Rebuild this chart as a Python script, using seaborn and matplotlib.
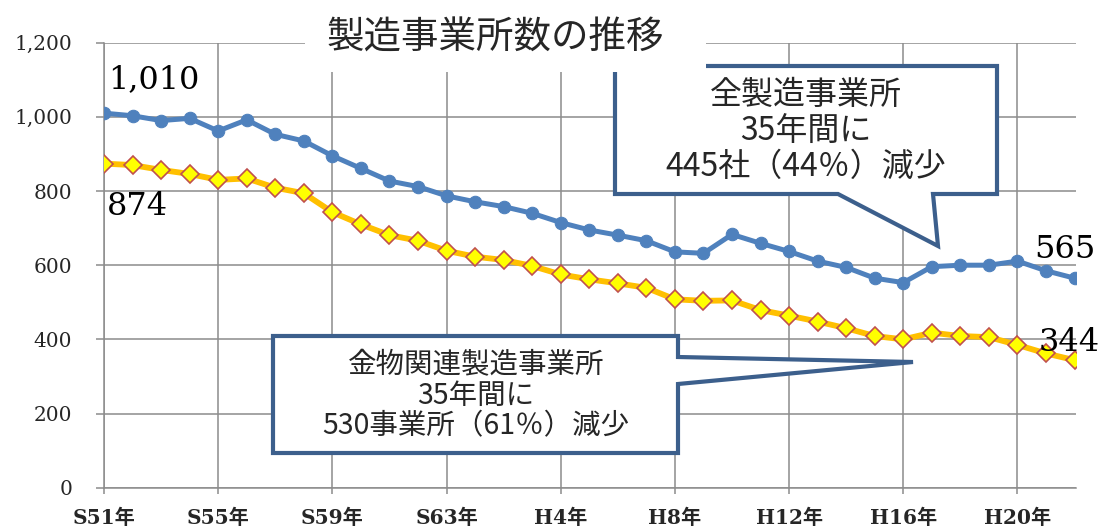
import matplotlib
matplotlib.use("Agg")
import matplotlib.pyplot as plt
from matplotlib.patches import Polygon, Rectangle
import seaborn as sns
import pandas as pd

# ---- data -------------------------------------------------------------
years = ["S51年", "S52年", "S53年", "S54年", "S55年", "S56年", "S57年", "S58年",
         "S59年", "S60年", "S61年", "S62年", "S63年", "H1年", "H2年", "H3年",
         "H4年", "H5年", "H6年", "H7年", "H8年", "H9年", "H10年", "H11年",
         "H12年", "H13年", "H14年", "H15年", "H16年", "H17年", "H18年", "H19年",
         "H20年", "H21年", "H22年"]
all_mfg = [1010, 1003, 990, 996, 962, 992, 953, 935, 895, 861, 827, 812, 787,
           771, 758, 740, 715, 695, 681, 666, 636, 632, 683, 659, 637, 611,
           594, 565, 553, 596, 600, 600, 611, 585, 565]
hardware = [874, 870, 857, 846, 830, 834, 809, 794, 743, 710, 681, 666, 639,
            623, 614, 598, 575, 562, 551, 539, 508, 504, 505, 479, 464, 448,
            430, 409, 400, 418, 409, 406, 385, 362, 344]
y_ticks = [0, 200, 400, 600, 800, 1000, 1200]
title = "製造事業所数の推移"
note_all = ["全製造事業所", "35年間に", "445社（44％）減少"]
note_hw = ["金物関連製造事業所", "35年間に", "530事業所（61％）減少"]

df = pd.DataFrame({"i": range(len(years)), "year": years,
                   "all": all_mfg, "hw": hardware})

# ---- figure -----------------------------------------------------------
sns.set_style("white")
plt.rcParams["font.family"] = ["DejaVu Serif", "Noto Sans CJK JP"]
W, H = 1101, 526
fig = plt.figure(figsize=(W / 100, H / 100), dpi=100)


def fx(px):
    return px / W


def fy(py):
    return 1 - py / H


ax = fig.add_axes([fx(104), fy(487.7), (1076 - 104) / W, (487.7 - 42.7) / H])

sns.lineplot(data=df, x="i", y="all", ax=ax, color="#4F81BD", lw=3.6,
             marker="o", markersize=9, markeredgecolor="#4F81BD",
             markerfacecolor="#4F81BD", zorder=3)
sns.lineplot(data=df, x="i", y="hw", ax=ax, color="#FFC000", lw=4.2,
             marker="D", markersize=9, markerfacecolor="#FFFF00",
             markeredgecolor="#C0504D", markeredgewidth=1.2, zorder=3)

ax.set_xlim(0, len(years) - 1 + 0.05)
ax.set_ylim(0, 1200)
ax.set_xlabel("")
ax.set_ylabel("")

grid_c = "#8C8C8C"
xt = list(range(0, len(years), 4))
ax.set_xticks(xt)
ax.set_xticklabels([years[i] for i in xt], fontsize=14.5, fontweight="bold")
ax.set_yticks(y_ticks)
ax.set_yticklabels([f"{v:,}" for v in y_ticks], fontsize=14.5)
ax.grid(True, color=grid_c, lw=1.1)
ax.set_axisbelow(True)
for s in ["top", "right"]:
    ax.spines[s].set_visible(False)
for s in ["left", "bottom"]:
    ax.spines[s].set_color(grid_c)
    ax.spines[s].set_linewidth(1.1)
ax.tick_params(axis="y", length=5.8, width=1.1, color=grid_c, pad=17,
               direction="out", left=True)
ax.tick_params(axis="x", length=4.3, width=1.1, color=grid_c, pad=10,
               direction="out", bottom=True)

# ---- value labels -----------------------------------------------------
lab = dict(textcoords="offset points", fontsize=23, color="black",
           family="DejaVu Serif", zorder=6)
ax.annotate(f"{all_mfg[0]:,}", (0, all_mfg[0]), xytext=(3, 24),
            ha="left", va="center", **lab)
ax.annotate(f"{hardware[0]:,}", (0, hardware[0]), xytext=(2, -31),
            ha="left", va="center", **lab)
ax.annotate(f"{all_mfg[-1]:,}", (len(years) - 1, all_mfg[-1]),
            xytext=(-7, 21), ha="center", va="center", annotation_clip=False,
            **lab)
ax.annotate(f"{hardware[-1]:,}", (len(years) - 1, hardware[-1]),
            xytext=(-4, 13), ha="center", va="center", annotation_clip=False,
            **lab)

# ---- callouts ---------------------------------------------------------
edge = "#3C5F8C"


def callout(pts, lines, ys, cx, size):
    poly = Polygon([(fx(x), fy(y)) for x, y in pts], closed=True,
                   transform=fig.transFigure, facecolor="white",
                   edgecolor=edge, lw=3.0, joinstyle="miter",
                   clip_on=False, zorder=4)
    ax.add_patch(poly)
    for t, y in zip(lines, ys):
        fig.text(fx(cx), fy(y), t, ha="center", va="center", fontsize=size,
                 family=["Noto Sans CJK JP", "DejaVu Sans"], zorder=7)


callout([(615, 66), (997, 66), (997, 194), (933, 194), (938, 246),
         (838, 194), (615, 194)], note_all, [95, 132, 167], 806, 23)
callout([(273, 336), (678, 336), (678, 357), (913, 362), (678, 384),
         (678, 453), (273, 453)], note_hw, [365, 396, 426], 476, 20.5)

# ---- title ------------------------------------------------------------
ax.add_patch(Rectangle((fx(305), fy(72)), (706 - 305) / W, 72 / H,
                       transform=fig.transFigure, facecolor="white",
                       edgecolor="none", clip_on=False, zorder=5))
fig.text(fx(495), fy(38), title, ha="center", va="center", fontsize=27,
         family=["Noto Sans CJK JP", "DejaVu Sans"], zorder=8)

fig.savefig("out.png", dpi=100, facecolor="white")
